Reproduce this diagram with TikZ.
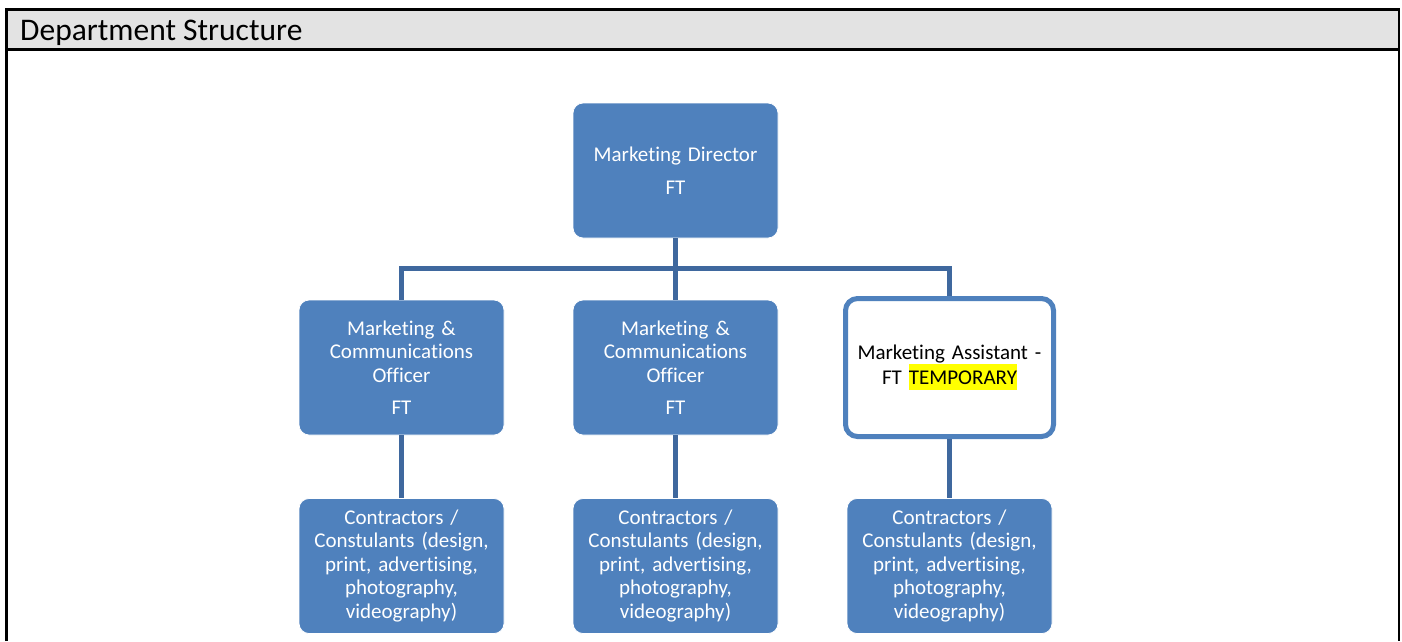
\documentclass[tikz,border=0pt]{standalone}
\usepackage{fontspec}
\setmainfont{Carlito}[Ligatures={NoCommon}]
\definecolor{boxblue}{RGB}{79,129,189}
\definecolor{linkblue}{RGB}{63,104,158}
\definecolor{headgray}{RGB}{227,227,227}
\definecolor{hilite}{RGB}{255,255,0}
\tikzset{
  rolebox/.style={rectangle, rounded corners=10pt, fill=boxblue, draw=white, line width=0.8pt,
    minimum width=205pt, minimum height=135pt, text width=190pt, align=center,
    text=white, font=\fontsize{21}{23.5}\selectfont},
  openbox/.style={rectangle, rounded corners=12pt, fill=white, draw=boxblue, line width=5pt,
    minimum width=208pt, minimum height=138pt, text width=190pt, align=center,
    text=black, font=\fontsize{21}{23.5}\selectfont},
  link/.style={draw=linkblue, line width=5pt},
  frame/.style={draw=black, line width=2.6pt},
}
\begin{document}
\begin{tikzpicture}[x=1pt,y=-1pt]
  \useasboundingbox (0,0) rectangle (1402,641);
  % page frame with grey title band
  \fill[headgray] (6.5,9.5) rectangle (1399,49.5);
  \draw[frame] (6.5,641) -- (6.5,9.5) -- (1399,9.5) -- (1399,641);
  \draw[frame] (6.5,49.5) -- (1399,49.5);
  \node[anchor=west, inner sep=0pt, font=\fontsize{31.5}{36}\selectfont] (title) at (20,33) {Department Structure};

  % org chart
  \node[rolebox] (dir) at (675.5,170.5) {Marketing Director\\[9.5pt]FT};
  \node[rolebox] (mco1) at (401.5,367.5) {Marketing \&\\Communications\\Officer\\[8.5pt]FT};
  \node[rolebox] (mco2) at (675.5,367.5) {Marketing \&\\Communications\\Officer\\[8.5pt]FT};
  \node[openbox] (asst) at (949.5,367.5) {Marketing Assistant -\\FT {\setlength{\fboxsep}{0pt}\colorbox{hilite}{\rule[-6pt]{0pt}{26pt}TEMPORARY}}};
  \node[rolebox] (con1) at (401.5,566) {Contractors /\\Constulants (design,\\print, advertising,\\photography,\\videography)};
  \node[rolebox] (con2) at (675.5,566) {Contractors /\\Constulants (design,\\print, advertising,\\photography,\\videography)};
  \node[rolebox] (con3) at (949.5,566) {Contractors /\\Constulants (design,\\print, advertising,\\photography,\\videography)};

  % reporting lines
  \coordinate (bus) at (675.5,268);
  \draw[link] (dir.south) -- (bus);
  \draw[link] (mco1.north) |- (bus) -| (asst.north);
  \draw[link] (bus) -- (mco2.north);
  \draw[link] (mco1.south) -- (con1.north);
  \draw[link] (mco2.south) -- (con2.north);
  \draw[link] (asst.south) -- (con3.north);
\end{tikzpicture}
\end{document}
